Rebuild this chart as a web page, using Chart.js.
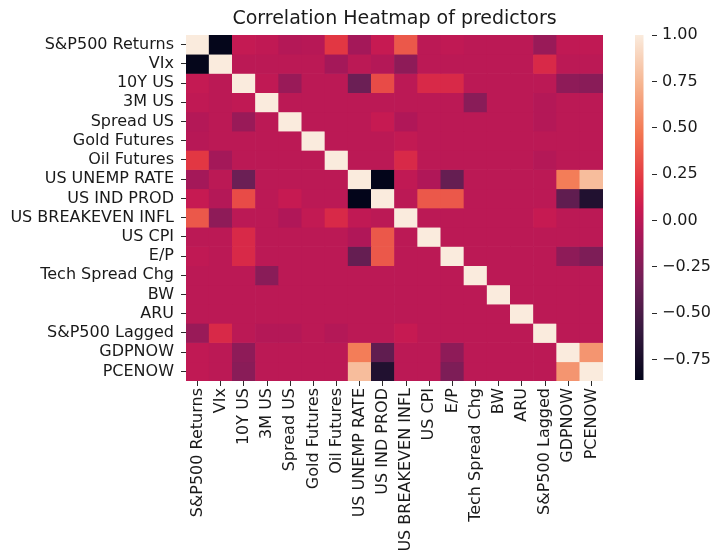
<!DOCTYPE html>
<html>
<head>
<meta charset="utf-8">
<script src="https://cdn.jsdelivr.net/npm/chart.js@4/dist/chart.umd.min.js"></script>
<style>
  html, body { margin: 0; padding: 0; background: #fff; }
  #wrap { position: relative; width: 713px; height: 556px; }
  #heat { position: absolute; left: 0; top: 0; }
  #cbar { position: absolute; left: 627px; top: 0; }
</style>
</head>
<body>
<div id="wrap">
  <canvas id="heat" width="713" height="556"></canvas>
  <canvas id="cbar" width="86" height="556"></canvas>
</div>
<script>
// Predictor names (row and column order of the correlation matrix)
const predictors = [
  "S&P500 Returns", "VIx", "10Y US", "3M US", "Spread US", "Gold Futures",
  "Oil Futures", "US UNEMP RATE", "US IND PROD", "US BREAKEVEN INFL", "US CPI",
  "E/P", "Tech Spread Chg", "BW", "ARU", "S&P500 Lagged", "GDPNOW", "PCENOW"
];

// Pairwise correlations, one row per predictor
const sp500Returns = [1.00, -0.85, 0.04, 0.02, -0.03, -0.02, 0.22, -0.10, 0.05, 0.35, 0.00, 0.02, 0.00, 0.00, 0.00, -0.15, 0.02, 0.02];
const vix          = [-0.85, 1.00, 0.00, 0.00, 0.00, 0.00, -0.10, 0.00, -0.03, -0.20, 0.00, 0.00, 0.00, 0.00, 0.00, 0.15, 0.00, 0.00];
const us10y        = [0.04, 0.00, 1.00, 0.02, -0.15, 0.00, 0.00, -0.35, 0.30, 0.00, 0.15, 0.15, 0.00, 0.00, 0.00, 0.00, -0.20, -0.22];
const us3m         = [0.02, 0.00, 0.02, 1.00, 0.00, 0.00, 0.00, 0.00, 0.00, 0.00, 0.00, 0.00, -0.22, 0.00, 0.00, -0.03, 0.00, 0.00];
const spreadUs     = [-0.03, 0.00, -0.15, 0.00, 1.00, 0.00, 0.00, 0.00, 0.05, -0.05, 0.00, 0.00, 0.00, 0.00, 0.00, -0.03, 0.00, 0.00];
const goldFutures  = [-0.02, 0.00, 0.00, 0.00, 0.00, 1.00, 0.00, 0.00, 0.00, 0.03, 0.00, 0.00, 0.00, 0.00, 0.00, 0.00, 0.00, 0.00];
const oilFutures   = [0.22, -0.10, 0.00, 0.00, 0.00, 0.00, 1.00, 0.00, 0.00, 0.15, 0.00, 0.00, 0.00, 0.00, 0.00, -0.03, 0.00, 0.00];
const unempRate    = [-0.10, 0.00, -0.35, 0.00, 0.00, 0.00, 0.00, 1.00, -0.86, 0.02, -0.05, -0.38, 0.00, 0.00, 0.00, 0.00, 0.50, 0.78];
const indProd      = [0.05, -0.03, 0.30, 0.00, 0.05, 0.00, 0.00, -0.86, 1.00, 0.00, 0.35, 0.35, 0.00, 0.00, 0.00, 0.00, -0.40, -0.70];
const breakeven    = [0.35, -0.20, 0.00, 0.00, -0.05, 0.03, 0.15, 0.02, 0.00, 1.00, 0.00, 0.00, 0.00, 0.00, 0.00, 0.05, 0.00, 0.00];
const usCpi        = [0.00, 0.00, 0.15, 0.00, 0.00, 0.00, 0.00, -0.05, 0.35, 0.00, 1.00, 0.00, 0.00, 0.00, 0.00, 0.00, 0.00, 0.00];
const earningsYld  = [0.02, 0.00, 0.15, 0.00, 0.00, 0.00, 0.00, -0.38, 0.35, 0.00, 0.00, 1.00, 0.00, 0.00, 0.00, 0.00, -0.20, -0.27];
const techSpread   = [0.00, 0.00, 0.00, -0.22, 0.00, 0.00, 0.00, 0.00, 0.00, 0.00, 0.00, 0.00, 1.00, 0.00, 0.00, 0.00, 0.00, 0.00];
const bw           = [0.00, 0.00, 0.00, 0.00, 0.00, 0.00, 0.00, 0.00, 0.00, 0.00, 0.00, 0.00, 0.00, 1.00, 0.00, 0.00, 0.00, 0.00];
const aru          = [0.00, 0.00, 0.00, 0.00, 0.00, 0.00, 0.00, 0.00, 0.00, 0.00, 0.00, 0.00, 0.00, 0.00, 1.00, 0.00, 0.00, 0.00];
const sp500Lagged  = [-0.15, 0.15, 0.00, -0.03, -0.03, 0.00, -0.03, 0.00, 0.00, 0.05, 0.00, 0.00, 0.00, 0.00, 0.00, 1.00, 0.00, 0.00];
const gdpNow       = [0.02, 0.00, -0.20, 0.00, 0.00, 0.00, 0.00, 0.50, -0.40, 0.00, 0.00, -0.20, 0.00, 0.00, 0.00, 0.00, 1.00, 0.60];
const pceNow       = [0.02, 0.00, -0.22, 0.00, 0.00, 0.00, 0.00, 0.78, -0.70, 0.00, 0.00, -0.27, 0.00, 0.00, 0.00, 0.00, 0.60, 1.00];

// Colour bar tick values
const colorbarTicks = [-0.75, -0.50, -0.25, 0.00, 0.25, 0.50, 0.75, 1.00];

const corr = [sp500Returns, vix, us10y, us3m, spreadUs, goldFutures, oilFutures,
  unempRate, indProd, breakeven, usCpi, earningsYld, techSpread, bw, aru,
  sp500Lagged, gdpNow, pceNow];

// Colour scale limits follow the data range
const vmin = Math.min(...corr.flat());
const vmax = Math.max(...corr.flat());

// "rocket" colormap anchor colours
const rocketStops = [
  [0.0, "#03051a"], [1 / 7, "#35193e"], [2 / 7, "#701f57"], [3 / 7, "#ad1759"],
  [0.5, "#cb1b51"], [4 / 7, "#e13342"], [5 / 7, "#f37651"], [6 / 7, "#f6b48f"],
  [1.0, "#faebdd"]
];
const hexToRgb = h => [1, 3, 5].map(i => parseInt(h.slice(i, i + 2), 16));
function rocket(t) {
  t = Math.max(0, Math.min(1, t));
  for (let i = 1; i < rocketStops.length; i++) {
    const [t1, c1] = rocketStops[i];
    if (t <= t1) {
      const [t0, c0] = rocketStops[i - 1];
      const f = (t - t0) / (t1 - t0);
      const a = hexToRgb(c0), b = hexToRgb(c1);
      const rgb = a.map((v, k) => Math.round(v + (b[k] - v) * f));
      return `rgb(${rgb[0]},${rgb[1]},${rgb[2]})`;
    }
  }
  return rocketStops[rocketStops.length - 1][1];
}
const colorFor = v => rocket((v - vmin) / (vmax - vmin));

const FONT = "'DejaVu Sans', sans-serif";
const TEXT = "#1a1a1a";
const TICK = "#2a2a2a";
const LABEL_SIZE = 16;

// One floating-bar dataset per matrix row; each bar spans one row band
const heatDatasets = corr.map((row, r) => ({
  label: predictors[r],
  data: row.map(() => [r, r + 1]),
  backgroundColor: row.map(colorFor),
  borderWidth: 0,
  barPercentage: 1,
  categoryPercentage: 1,
  grouped: false
}));

new Chart(document.getElementById("heat"), {
  type: "bar",
  data: { labels: predictors, datasets: heatDatasets },
  options: {
    responsive: false,
    animation: false,
    events: [],
    layout: { padding: { top: 0, right: 110, bottom: 0, left: 0 } },
    plugins: {
      legend: { display: false },
      tooltip: { enabled: false },
      title: {
        display: true,
        fullSize: false,
        text: "Correlation Heatmap of predictors",
        color: TEXT,
        font: { family: FONT, size: 19, weight: "normal" },
        padding: { top: 8, bottom: 4.2 }
      }
    },
    scales: {
      x: {
        type: "category",
        offset: true,
        grid: { display: true, drawOnChartArea: false, drawTicks: true, tickLength: 5, color: TICK, offset: false },
        border: { display: false },
        ticks: {
          autoSkip: false, maxRotation: 90, minRotation: 90, padding: 2,
          color: TEXT, font: { family: FONT, size: LABEL_SIZE }
        },
        afterFit: s => { s.height = 175; }
      },
      y: {
        type: "linear",
        min: 0,
        max: predictors.length,
        reverse: true,
        grid: { display: true, drawOnChartArea: false, drawTicks: true, tickLength: 5, color: TICK },
        border: { display: false },
        afterBuildTicks: s => { s.ticks = predictors.map((_, i) => ({ value: i + 0.5 })); },
        ticks: {
          autoSkip: false, padding: 7, color: TEXT,
          font: { family: FONT, size: LABEL_SIZE },
          callback: v => predictors[Math.floor(v)]
        },
        afterFit: s => { s.width = 186; }
      }
    }
  }
});

// Colour bar: a single floating bar filled with the colormap gradient
new Chart(document.getElementById("cbar"), {
  type: "bar",
  data: {
    labels: [""],
    datasets: [{
      data: [[vmin, vmax]],
      backgroundColor: ctx => {
        const chart = ctx.chart;
        if (!chart.chartArea) return "#000";
        const ys = chart.scales.y;
        const g = chart.ctx.createLinearGradient(0, ys.getPixelForValue(vmin), 0, ys.getPixelForValue(vmax));
        rocketStops.forEach(([t, c]) => g.addColorStop(t, c));
        return g;
      },
      borderWidth: 0,
      barPercentage: 1,
      categoryPercentage: 1,
      inflateAmount: 0
    }]
  },
  options: {
    responsive: false,
    animation: false,
    events: [],
    layout: { padding: { top: 35, right: 0, bottom: 176, left: 8 } },
    plugins: { legend: { display: false }, tooltip: { enabled: false } },
    scales: {
      x: { display: false, offset: false },
      y: {
        type: "linear",
        position: "right",
        min: vmin,
        max: vmax,
        grid: { display: true, drawOnChartArea: false, drawTicks: true, tickLength: 5, color: TICK },
        border: { display: false },
        afterBuildTicks: s => { s.ticks = colorbarTicks.map(v => ({ value: v })); },
        ticks: {
          padding: 5, color: TEXT,
          font: { family: FONT, size: LABEL_SIZE },
          callback: v => v.toFixed(2).replace("-", "\u2212")
        },
        afterFit: s => { s.width = 61; }
      }
    }
  }
});
</script>
</body>
</html>
